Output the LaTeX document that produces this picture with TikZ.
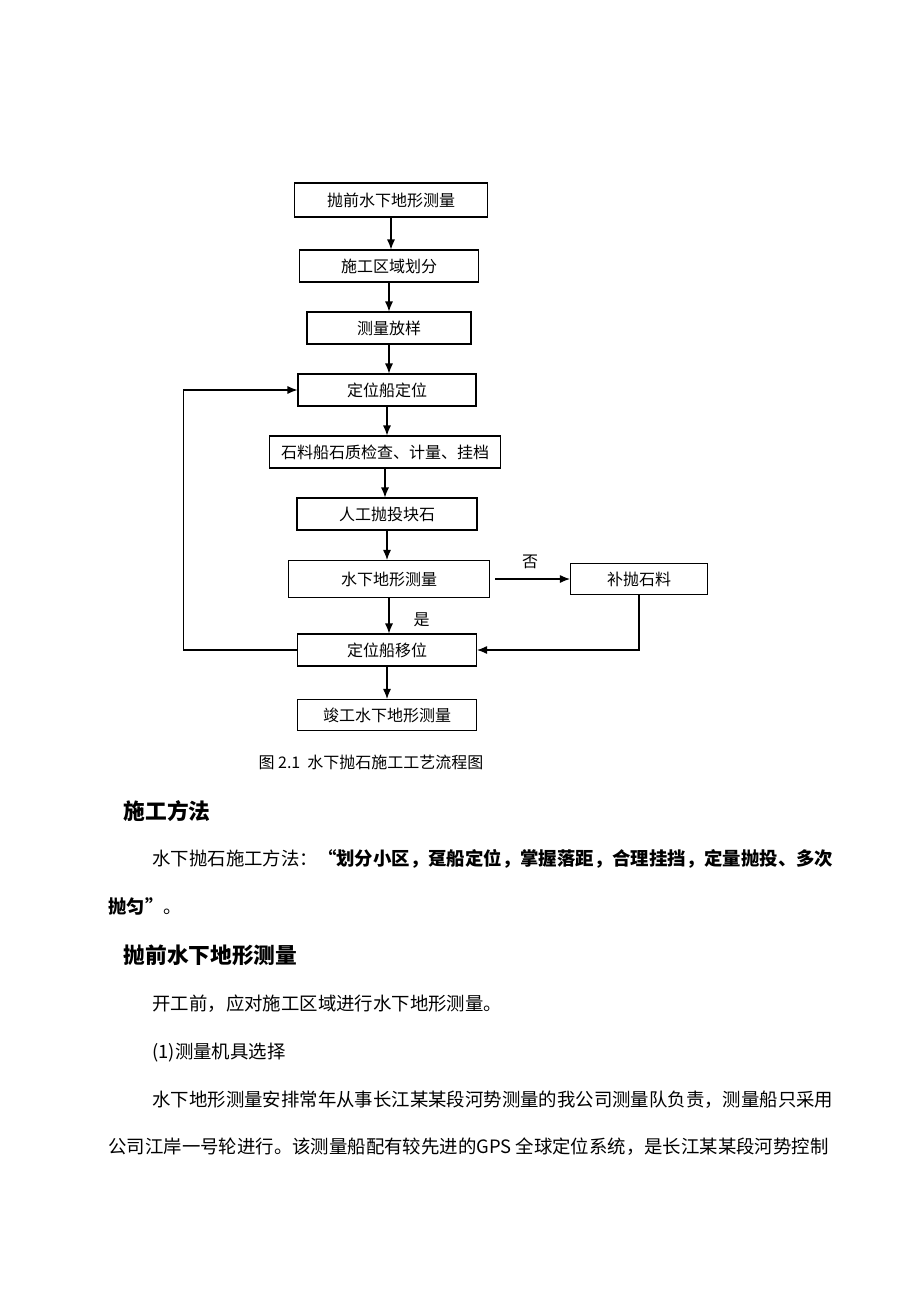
\documentclass[tikz,border=0pt]{standalone}
\usepackage{fontspec}
\setmainfont{Noto Sans CJK SC}
\usetikzlibrary{arrows.meta}

\begin{document}
\begin{tikzpicture}[x=0.75pt, y=-0.75pt, ->, >={Latex[length=7.5pt,width=6pt]}, line width=0.8pt,
  box/.style={draw, rectangle, inner sep=0pt, font=\fontsize{12}{13}\selectfont},
  lbl/.style={inner sep=0pt, font=\fontsize{12}{13}\selectfont},
  body/.style={anchor=west, inner sep=0pt, font=\fontsize{13.8}{15}\selectfont},
  head/.style={anchor=west, inner sep=0pt, font=\fontsize{16.3}{18}\selectfont\bfseries}]
\useasboundingbox (0,0) rectangle (920,1302);
% flow chart
\node[box, minimum width=144.8pt, minimum height=25.5pt] (survey) at (391,200) {抛前水下地形测量};
\node[box, minimum width=134.3pt, minimum height=24pt] (divide) at (389,266) {施工区域划分};
\node[box, minimum width=123pt, minimum height=24pt] (stake) at (389,328) {测量放样};
\node[box, minimum width=133.5pt, minimum height=24pt] (locate) at (387,390) {定位船定位};
\node[box, minimum width=173.3pt, minimum height=24pt] (check) at (385,452) {石料船石质检查、计量、挂档};
\node[box, minimum width=135pt, minimum height=24pt] (dump) at (387,514) {人工抛投块石};
\node[box, minimum width=150.8pt, minimum height=27.8pt] (measure) at (389,579) {水下地形测量};
\node[box, minimum width=102.8pt, minimum height=23.3pt] (refill) at (639,579) {补抛石料};
\node[box, minimum width=134.3pt, minimum height=24pt] (shift) at (387,650) {定位船移位};
\node[box, minimum width=134.3pt, minimum height=23.3pt] (final) at (387,715) {竣工水下地形测量};
\path (survey) edge (survey |- divide.north);
\path (divide) edge (divide |- stake.north);
\path (stake) edge (stake |- locate.north);
\path (locate) edge (locate |- check.north);
\path (check) edge (check |- dump.north);
\path (dump) edge (dump |- measure.north);
\path (measure) edge [shorten <=4pt] node [lbl, above=7pt] {否} (refill);
\path (measure) edge node [lbl, right=18pt, pos=.62] {是} (measure |- shift.north);
\path (shift) edge (shift |- final.north);
\draw (refill.south) |- (shift.east);
\draw (shift.west) -- ++(-113,0) |- (locate.west);
\node[lbl, anchor=west] (caption) at (258,762) {图 2.1\ \ 水下抛石施工工艺流程图};
% text below
\node[head] (h1) at (123,811) {施工方法};
\node[body] (p1) at (152,859) {水下抛石施工方法：\textbf{“划分小区，趸船定位，掌握落距，合理挂挡，定量抛投、多次}};
\node[body] (p2) at (108,906) {\textbf{抛匀”}。};
\node[head] (h2) at (123,955) {抛前水下地形测量};
\node[body] (p3) at (152,1004) {开工前，应对施工区域进行水下地形测量。};
\node[body] (p4) at (152,1053) {(1)测量机具选择};
\node[body] (p5) at (152,1100) {水下地形测量安排常年从事长江某某段河势测量的我公司测量队负责，测量船只采用};
\node[body] (p6) at (108,1147) {公司江岸一号轮进行。该测量船配有较先进的GPS 全球定位系统，是长江某某段河势控制};
\end{tikzpicture}
\end{document}
